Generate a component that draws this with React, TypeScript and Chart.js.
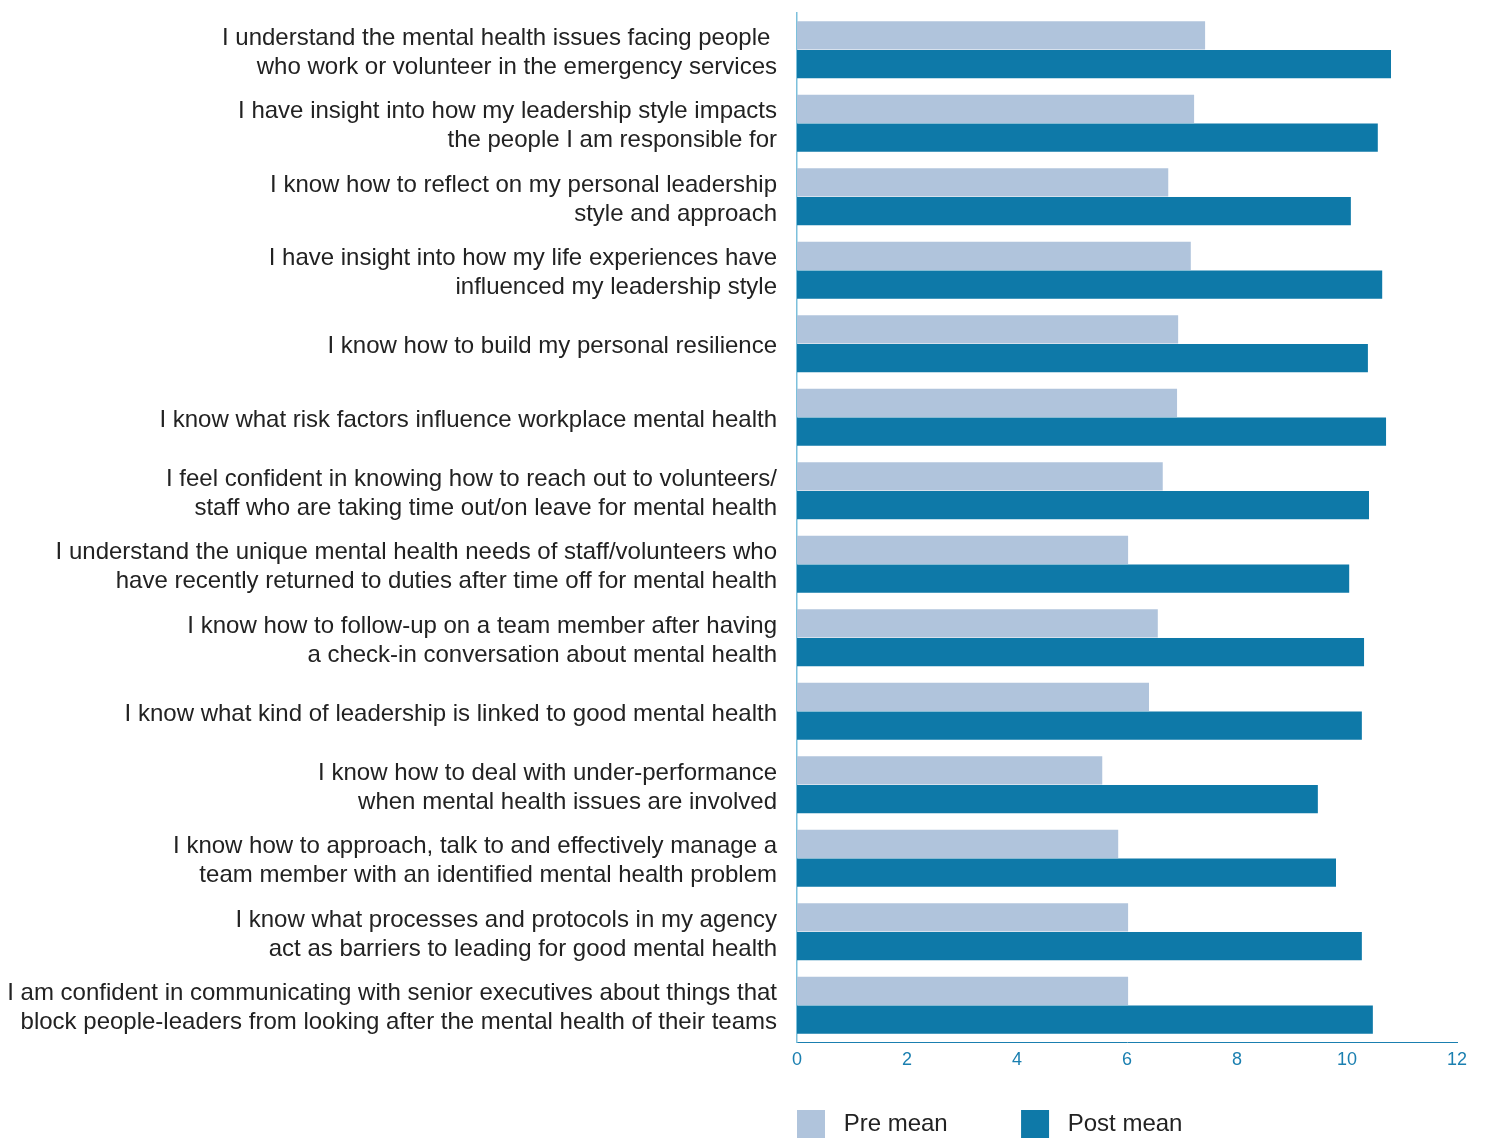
import React, { useEffect, useRef } from "react";
import { Chart, registerables } from "chart.js";

Chart.register(...registerables);

const categories: string[][] = [
  ["I understand the mental health issues facing people ", "who work or volunteer in the emergency services"],
  ["I have insight into how my leadership style impacts", "the people I am responsible for"],
  ["I know how to reflect on my personal leadership", "style and approach"],
  ["I have insight into how my life experiences have", "influenced my leadership style"],
  ["I know how to build my personal resilience"],
  ["I know what risk factors influence workplace mental health"],
  ["I feel confident in knowing how to reach out to volunteers/", "staff who are taking time out/on leave for mental health"],
  ["I understand the unique mental health needs of staff/volunteers who", "have recently returned to duties after time off for mental health"],
  ["I know how to follow-up on a team member after having", "a check-in conversation about mental health"],
  ["I know what kind of leadership is linked to good mental health"],
  ["I know how to deal with under-performance", "when mental health issues are involved"],
  ["I know how to approach, talk to and effectively manage a", "team member with an identified mental health problem"],
  ["I know what processes and protocols in my agency", "act as barriers to leading for good mental health"],
  ["I am confident in communicating with senior executives about things that", "block people-leaders from looking after the mental health of their teams"],
];

const preMean: number[] = [7.42, 7.22, 6.75, 7.16, 6.93, 6.91, 6.65, 6.02, 6.56, 6.4, 5.55, 5.84, 6.02, 6.02];
const postMean: number[] = [10.8, 10.56, 10.07, 10.64, 10.38, 10.71, 10.4, 10.04, 10.31, 10.27, 9.47, 9.8, 10.27, 10.47];

const xTicks: number[] = [0, 2, 4, 6, 8, 10, 12];

const FONT = "'Liberation Sans', Arial, Helvetica, sans-serif";

export default function App() {
  const ref = useRef<HTMLCanvasElement>(null);

  useEffect(() => {
    document.body.style.margin = "0";
    const ctx = ref.current!;
    const chart = new Chart(ctx, {
      type: "bar",
      data: {
        labels: categories,
        datasets: [
          {
            label: "Pre mean",
            data: preMean,
            backgroundColor: "#b0c4dc",
            borderWidth: 0,
            barPercentage: 0.98,
            categoryPercentage: 0.78,
          },
          {
            label: "Post mean",
            data: postMean,
            backgroundColor: "#0e79a8",
            borderWidth: 0,
            barPercentage: 0.98,
            categoryPercentage: 0.78,
          },
        ],
      },
      options: {
        indexAxis: "y",
        animation: false,
        responsive: false,
        maintainAspectRatio: false,
        layout: { padding: { top: 13, right: 28, left: 0, bottom: -10 } },
        plugins: {
          tooltip: { enabled: false },
          legend: {
            position: "bottom",
            align: "start",
            fullSize: false,
            labels: {
              boxWidth: 28,
              boxHeight: 28,
              padding: 0,
              color: "#222222",
              font: { family: FONT, size: 24 },
              generateLabels: (c: any) =>
                c.data.datasets.map((ds: any, i: number) => ({
                  text: " " + ds.label + (i === 0 ? "           " : ""),
                  fillStyle: ds.backgroundColor,
                  strokeStyle: ds.backgroundColor,
                  lineWidth: 0,
                  hidden: false,
                  datasetIndex: i,
                  fontColor: "#222222",
                })),
            },
          },
        },
        scales: {
          x: {
            min: 0,
            max: 12,
            afterBuildTicks: (axis: any) => {
              axis.ticks = xTicks.map((v) => ({ value: v }));
            },
            afterFit: (axis: any) => {
              axis.height = 68;
            },
            grid: { display: false, drawTicks: false },
            border: { display: true, color: "#1a7fb0", width: 1 },
            ticks: {
              color: "#1a7fb0",
              padding: 7,
              font: { family: FONT, size: 18 },
            },
          },
          y: {
            afterFit: (axis: any) => {
              axis.paddingTop = 0;
              axis.paddingBottom = 0;
              axis.width = 797;
            },
            grid: { display: false, drawTicks: false },
            border: { display: true, color: "#7cc0dc", width: 1.5 },
            ticks: {
              color: "#222222",
              padding: 20,
              autoSkip: false,
              labelOffset: 3,
              font: { family: FONT, size: 24, lineHeight: 1.21 },
            },
          },
        },
      },
    });
    return () => chart.destroy();
  }, []);

  return (
    <div style={{ width: 1485, height: 1138 }}>
      <canvas ref={ref} width={1485} height={1138} style={{ display: "block" }} />
    </div>
  );
}
